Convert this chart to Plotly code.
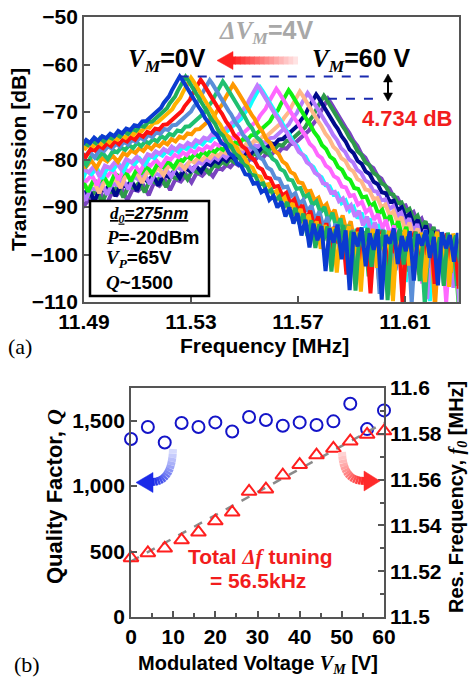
import plotly.graph_objects as go

W, H = 471, 679
SANS = "Liberation Sans, Arial, sans-serif"
SERIF = "Liberation Serif, Times New Roman, serif"


def px(x):
    return x / W


def py(y):
    return 1 - y / H


# ---------------- Panel (b) data ----------------
V_M = [0, 4, 8, 12, 16, 20, 24, 28, 32, 36, 40, 44, 48, 52, 56, 60]
Q_FACTOR = [1360, 1452, 1334, 1482, 1452, 1487, 1418, 1528, 1505, 1462,
            1487, 1467, 1495, 1630, 1436, 1579]
RES_FREQ = [11.5258, 11.5280, 11.5300, 11.5336, 11.5370, 11.5419, 11.5457,
            11.5548, 11.5558, 11.5619, 11.5665, 11.5707, 11.5736, 11.5768,
            11.5797, 11.5812]
FIT_V = [0, 60]
FIT_F = [11.5243, 11.5848]

# ---------------- Panel (a) data ----------------
PEAK_DB = [-62.5, -62.6, -62.8, -63.2, -63.3, -63.6, -64.2, -64.4, -64.8,
           -65.1, -65.4, -65.7, -66.0, -66.3, -66.6, -67.234]
CURVE_COLORS = ['#0b3bd0', '#1fae5b', '#ffb300', '#ff1010', '#5a8ed8',
                '#20c070', '#ff9800', '#c27cff', '#10ffff', '#ff66ff',
                '#10f010', '#ffb888', '#b57bff', '#000a8c', '#2e9a4a',
                '#7a44c0']
# measured resonance profile: offset from peak [kHz] and level relative to peak [dB]
PROFILE_KHZ = [
    -95, -93, -91, -89, -87, -85, -83, -81, -79, -77, -75, -73, -71, -69,
    -67, -65, -63, -61, -59, -57, -55, -53, -51, -49, -47, -45, -43, -41,
    -39.5, -38, -36.5, -35, -33.5, -32, -30.5, -29, -27.5, -26, -24.5, -23,
    -21.5, -20, -18.5, -17, -15.5, -14, -12.5, -11, -9.5,
    -8, -7, -6, -5, -4, -3, -2, -1, 0,
    1, 2, 3, 4, 5, 6, 7, 8,
    9.5, 11, 12.5, 14, 15.5, 17, 18.5, 20, 21.5, 23, 24.5, 26, 27.5, 29,
    30.5, 32, 33.5, 35, 36.5, 38, 39.5, 41, 42.5, 44, 45.5, 47, 48.5, 50,
    51.5, 53, 54.5, 56, 57.5, 59, 60.5, 62, 63.5, 65, 66.5, 68, 69.5, 71,
    72.5, 74, 75.5, 77, 78.5, 80, 81.5, 83, 84.5, 86, 87.5, 89, 90.5, 92,
    93.5, 95, 96.5, 98, 99.5, 101, 102.5, 104, 105.5]
PROFILE_DB = [
    -21.8, -20.6, -22.4, -20.9, -21.2, -19.6, -22.6, -20.0, -20.3, -18.9,
    -21.4, -19.0, -19.4, -18.2, -20.3, -17.6, -18.3, -17.0, -19.2, -16.9,
    -17.4, -16.0, -17.6, -15.5, -16.2, -15.0, -16.3, -14.5,
    -14.9, -13.9, -14.4, -13.4, -14.0, -12.9, -13.6, -12.6, -13.0, -12.1,
    -12.6, -11.5, -12.0, -11.0, -11.3, -10.3, -10.5, -9.5, -9.4, -8.6, -7.9,
    -7.0, -6.6, -5.6, -5.0, -4.2, -3.0, -1.9, -0.7, 0.0,
    -0.8, -1.8, -2.8, -3.7, -4.6, -5.5, -6.4, -7.2,
    -8.8, -9.9, -11.6, -12.4, -14.0, -14.6, -16.2, -16.8, -18.4, -18.9,
    -20.6, -20.8, -22.6, -22.4, -24.4, -23.8, -26.0, -25.2, -27.6, -26.4,
    -29.5, -27.6, -31.0, -28.8, -33.5, -30.2, -36.0, -31.0, -34.5, -31.5,
    -41.0, -32.0, -35.0, -31.2, -38.5, -32.4, -45.0, -32.8, -35.8, -31.8,
    -40.0, -33.0, -36.5, -32.2, -47.0, -33.4, -35.2, -32.0, -39.5, -33.6,
    -36.8, -32.6, -43.0, -33.2, -35.6, -32.4, -38.2, -33.8, -44.0, -32.8,
    -36.2, -33.4, -39.0, -33.0, -36.0]
assert len(PROFILE_KHZ) == len(PROFILE_DB)

fig = go.Figure()

# Panel (a): spectra, V_M = 60 V drawn first so that V_M = 0 V ends on top
for i in reversed(range(len(V_M))):
    fig.add_trace(go.Scatter(
        x=[RES_FREQ[i] + k * 1e-3 for k in PROFILE_KHZ],
        y=[PEAK_DB[i] + d for d in PROFILE_DB],
        mode='lines', line=dict(color=CURVE_COLORS[i], width=4),
        xaxis='x', yaxis='y', hoverinfo='skip', showlegend=False))

# Panel (b)
fig.add_trace(go.Scatter(x=FIT_V, y=FIT_F, mode='lines',
                         line=dict(color='#8a8a8a', width=2.5, dash='dash'),
                         xaxis='x2', yaxis='y3', showlegend=False))
fig.add_trace(go.Scatter(x=V_M, y=RES_FREQ, mode='markers',
                         marker=dict(symbol='triangle-up-open', size=13, color='#ff1f1f',
                                     line=dict(width=2, color='#ff1f1f')),
                         xaxis='x2', yaxis='y3', cliponaxis=False, showlegend=False))
fig.add_trace(go.Scatter(x=V_M, y=Q_FACTOR, mode='markers',
                         marker=dict(symbol='circle-open', size=12, color='#1414c8',
                                     line=dict(width=2, color='#1414c8')),
                         xaxis='x2', yaxis='y2', cliponaxis=False, showlegend=False))

TICKFONT = dict(family=SANS, size=21, color='black', weight='bold')
AX = dict(showline=True, linecolor='#555555', linewidth=1.8, ticks='inside',
          ticklen=6, tickwidth=1.5, tickcolor='#555555', showgrid=False,
          zeroline=False, tickfont=TICKFONT, automargin=False)

fig.update_layout(
    width=W, height=H, autosize=False,
    margin=dict(l=0, r=0, t=0, b=0),
    paper_bgcolor='white', plot_bgcolor='white', showlegend=False,
    xaxis=dict(AX, domain=[px(84), px(458.5)], range=[11.49, 11.63], anchor='y',
               tick0=11.49, dtick=0.04, mirror=True),
    yaxis=dict(AX, domain=[py(302), py(17)], range=[-110, -50], anchor='x',
               tick0=-110, dtick=10, mirror=True),
    xaxis2=dict(AX, domain=[px(131), px(384)], range=[0, 60], anchor='y2',
                tick0=0, dtick=10, mirror=True,
                minor=dict(dtick=5, tick0=0, ticks='inside', ticklen=4,
                           tickcolor='#555555', tickwidth=1.5)),
    yaxis2=dict(AX, domain=[py(617), py(388)], range=[0, 1750], anchor='x2',
                tick0=0, dtick=500, tickformat=','),
    yaxis3=dict(AX, range=[11.5, 11.6], anchor='x2', overlaying='y2', side='right',
                tick0=11.5, dtick=0.02, tickformat='~g',
                minor=dict(dtick=0.01, tick0=11.5, ticks='inside', ticklen=4,
                           tickcolor='#555555', tickwidth=1.5)),
)

shapes = []
# info box in panel (a)
shapes.append(dict(type='rect', xref='paper', yref='paper', x0=px(90), x1=px(209),
                   y0=py(296), y1=py(201), fillcolor='white',
                   line=dict(color='black', width=2.5), layer='above'))
# dashed peak-level lines
shapes.append(dict(type='line', xref='x', yref='y', x0=RES_FREQ[0], x1=11.5995,
                   y0=PEAK_DB[0], y1=PEAK_DB[0],
                   line=dict(color='#1a2ab0', width=2, dash='dash'), layer='above'))
shapes.append(dict(type='line', xref='x', yref='y', x0=RES_FREQ[-1], x1=11.5995,
                   y0=PEAK_DB[-1], y1=PEAK_DB[-1],
                   line=dict(color='#1a2ab0', width=2, dash='dash'), layer='above'))


def mix(c1, c2, t):
    a = [int(c1[k:k + 2], 16) for k in (1, 3, 5)]
    b = [int(c2[k:k + 2], 16) for k in (1, 3, 5)]
    return '#%02x%02x%02x' % tuple(round(a[j] + (b[j] - a[j]) * t) for j in range(3))


def seg(x0, y0, x1, y1, color, width):
    return dict(type='line', xref='paper', yref='paper', x0=px(x0), y0=py(y0),
                x1=px(x1), y1=py(y1), line=dict(color=color, width=width), layer='above')


def tri(pts, color):
    path = 'M ' + ' L '.join('%f %f' % (px(a), py(b)) for a, b in pts) + ' Z'
    return dict(type='path', xref='paper', yref='paper', path=path,
                fillcolor=color, line=dict(color=color, width=0.5), layer='above')


# horizontal gradient arrow (60 V -> 0 V)
N = 14
for j in range(N):
    xa = 298 - (298 - 231) * j / N
    xb = 298 - (298 - 231) * (j + 1.15) / N
    shapes.append(seg(xa, 60.5, max(xb, 231), 60.5, mix('#fff2f2', '#ff2020', (j + 1) / N), 8))
shapes.append(tri([(217, 60.5), (233, 51.5), (233, 69.5)], '#ff2020'))

# double-headed arrow (4.734 dB)
shapes.append(seg(388, 80, 388, 95, 'black', 2))
shapes.append(tri([(388, 74), (383.5, 82), (392.5, 82)], 'black'))
shapes.append(tri([(388, 101), (383.5, 93), (392.5, 93)], 'black'))


def qbez(p0, p1, p2, n):
    out = []
    for j in range(n + 1):
        t = j / n
        out.append(((1 - t) ** 2 * p0[0] + 2 * (1 - t) * t * p1[0] + t ** 2 * p2[0],
                    (1 - t) ** 2 * p0[1] + 2 * (1 - t) * t * p1[1] + t ** 2 * p2[1]))
    return out


def curved_arrow(p0, p1, p2, c_start, c_end, head):
    pts = qbez(p0, p1, p2, 14)
    for j in range(len(pts) - 1):
        shapes.append(seg(pts[j][0], pts[j][1], pts[j + 1][0], pts[j + 1][1],
                          mix(c_start, c_end, (j + 1) / (len(pts) - 1)), 8))
    shapes.append(tri(head, c_end))


curved_arrow((173, 449), (172, 482), (152, 482), '#e4e7ff', '#1a2ae8',
             [(136, 482.5), (153, 472.5), (153, 492.5)])
curved_arrow((342, 452), (343, 481), (364, 481), '#ffe0e0', '#ff2a2a',
             [(380, 481), (364, 471), (364, 491)])

fig.update_layout(shapes=shapes)


def ann(x, y, text, size=21, color='black', xanchor='center', angle=0,
        family=SANS, bold=True):
    return dict(x=px(x), y=py(y), xref='paper', yref='paper', text=text,
                showarrow=False, xanchor=xanchor, yanchor='middle', textangle=angle,
                font=dict(size=size, color=color, family=family,
                          weight='bold' if bold else 'normal'))


def it(s):
    return '<span style="font-family:Liberation Serif;font-style:italic">' + s + '</span>'


VM = it('V<sub>M</sub>')
RED = '#f21d1d'
annotations = [
    ann(266, 32, it('ΔV<sub>M</sub>') + '=4V', size=25, color='#a8a8a8'),
    ann(167, 60, VM + '=0V', size=25),
    ann(361, 60, VM + '=60 V', size=25),
    ann(407, 118, '4.734 dB', size=22, color=RED),
    ann(149, 215, '<i><u>' + it('d<sub>0</sub>') + '=275nm</u></i>', size=17),
    ann(104, 237, it('P') + '=-20dBm', size=19, xanchor='left'),
    ann(104, 259, it('V<sub>P</sub>') + '=65V', size=19, xanchor='left'),
    ann(104, 282, it('Q') + '~1500', size=19, xanchor='left'),
    ann(264, 345, 'Frequency [MHz]', size=21),
    ann(20, 346, '(a)', size=22, family=SERIF, bold=False),
    ann(18, 160, 'Transmission [dB]', size=21, angle=-90),
    ann(55, 497, 'Quality Factor, ' + it('Q'), size=22, angle=-90),
    ann(458, 497, 'Res. Frequency, ' + it('f<sub>0</sub>') + ' [MHz]', size=20, angle=-90),
    ann(258, 664, 'Modulated Voltage ' + VM + ' [V]', size=20),
    ann(27, 664, '(b)', size=22, family=SERIF, bold=False),
    ann(260, 557, 'Total ' + it('Δf') + ' tuning', size=21, color=RED),
    ann(258, 580, '= 56.5kHz', size=21, color=RED),
]
fig.update_layout(annotations=annotations)

fig.write_html("out.html", config={'displayModeBar': False})
